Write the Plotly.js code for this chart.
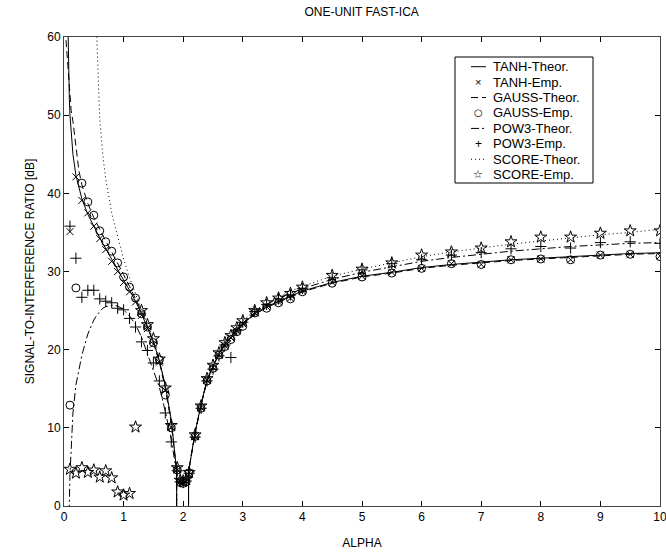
<!DOCTYPE html>
<html>
<head>
<meta charset="utf-8">
<script src="https://cdn.plot.ly/plotly-3.0.1.min.js"></script>
<style>html,body{margin:0;padding:0;background:#fff;}#chart{width:666px;height:556px;}</style>
</head>
<body>
<div id="chart"></div>
<script>
// Empirical alpha values
const alphaEmp = [0.1,0.2,0.3,0.4,0.5,0.6,0.7,0.8,0.9,1.0,1.1,1.2,1.3,1.4,1.5,1.6,1.7,1.8,1.9,1.95,2.0,2.05,2.1,2.2,2.3,2.4,2.5,2.6,2.7,2.8,2.9,3.0,3.2,3.4,3.6,3.8,4.0,4.5,5.0,5.5,6.0,6.5,7.0,7.5,8.0,8.5,9.0,9.5,10.0];
const tanhEmp  = [35.1,42.1,39.1,37.5,35.8,34.2,32.8,31.3,30.0,28.6,27.4,26.1,24.4,22.7,20.7,18.4,14.8,10.1,4.6,3.1,3.0,3.2,4.3,9.0,12.6,16.1,17.7,19.3,20.5,21.5,22.4,23.3,24.7,25.5,26.1,26.6,27.5,28.6,29.4,29.9,30.4,31.0,30.9,31.5,31.6,31.5,32.1,32.2,32.0];
const gaussEmp = [12.9,27.9,41.3,38.9,37.2,35.2,33.8,32.6,31.1,29.3,28.0,26.6,24.6,22.9,20.9,18.7,14.2,10.0,4.6,3.0,2.9,3.1,4.2,8.9,12.5,16.0,17.6,19.3,20.4,21.3,22.3,23.0,24.7,25.3,26.0,26.5,27.4,28.5,29.3,29.8,30.4,31.0,30.9,31.5,31.6,31.5,32.1,32.2,31.9];
const pow3Emp  = [35.8,31.7,26.7,27.6,27.6,26.5,26.2,26.0,25.3,25.1,24.0,22.9,21.0,19.9,18.3,16.0,11.9,8.2,4.5,3.1,3.0,3.2,4.2,8.8,12.5,16.0,17.5,19.2,20.6,19.0,22.5,23.5,24.9,25.8,26.5,27.0,27.8,29.2,30.2,31.0,31.5,32.1,32.4,32.9,33.2,33.0,33.7,33.8,33.6];
const scoreEmp = [4.7,4.2,4.9,4.3,4.6,3.7,4.5,3.6,1.8,1.4,1.6,10.1,25.0,23.2,21.4,18.8,15.1,10.3,4.9,3.3,3.2,3.4,4.3,9.1,12.8,16.3,18.0,19.6,20.9,21.8,22.8,23.7,25.0,26.0,26.6,27.2,28.0,29.5,30.3,31.1,32.1,32.5,33.0,33.8,34.4,34.4,34.9,35.2,35.2];

// Theoretical curves (values at 1.891 / 2.089 stand for -infinity dB)
const alphaTheor = [0.02,0.05,0.07,0.08,0.09,0.1,0.12,0.15,0.2,0.25,0.3,0.4,0.5,0.55,0.6,0.65,0.7,0.8,0.9,1.0,1.1,1.2,1.3,1.4,1.5,1.6,1.7,1.8,1.89,1.891,2.089,2.09,2.2,2.3,2.4,2.5,2.6,2.7,2.8,2.9,3.0,3.2,3.4,3.6,3.8,4.0,4.5,5,5.5,6,6.5,7,7.5,8,8.5,9,9.5,10];
const tanhTheor  = [80,66,60,55,52,50,47.5,45,42.3,40.6,39.3,37.3,35.7,35.0,34.3,33.6,32.9,31.5,30.2,28.9,27.6,26.2,24.6,22.9,21.0,18.6,15.4,11.0,4.5,-60,-60,4.4,9.4,13.0,16.1,17.9,19.5,20.7,21.7,22.6,23.3,24.6,25.5,26.2,26.9,27.5,28.6,29.4,29.9,30.5,30.9,31.2,31.5,31.7,31.9,32.1,32.3,32.4];
const gaussTheor = [61,57.5,55,54,53,52,50.6,49.2,45.8,42.9,41.1,38.7,36.9,36.1,35.3,34.6,33.9,32.5,31.1,29.6,28.1,26.6,24.9,23.0,20.9,18.4,15.0,10.6,4.5,-60,-60,4.4,9.3,12.9,16.0,17.8,19.4,20.6,21.6,22.5,23.2,24.5,25.4,26.1,26.8,27.4,28.5,29.3,29.8,30.4,30.8,31.1,31.4,31.6,31.8,32.0,32.2,32.3];
const pow3Theor  = [-60,-60,-20,-5,0.5,4,7.6,11.9,15.5,17.5,19.3,22.0,23.8,24.4,24.9,25.3,25.5,25.7,25.6,25.1,24.3,23.2,21.6,19.5,17.5,15.2,12.1,8.5,4.2,-60,-60,4.4,9.4,13.0,16.1,17.9,19.5,20.7,21.7,22.6,23.4,24.8,25.8,26.6,27.2,27.8,29.0,29.9,30.6,31.3,31.8,32.2,32.6,32.9,33.2,33.4,33.6,33.7];
const scoreTheor = [null,null,null,null,null,null,null,null,null,null,null,null,80,60,49.5,45.0,41.8,37.5,34.5,31.6,29.2,27.1,25.1,23.2,21.2,18.8,15.4,10.9,4.6,-60,-60,4.5,9.5,13.2,16.3,18.2,19.8,21.0,22.0,22.9,23.7,25.0,26.0,26.8,27.5,28.1,29.4,30.3,31.1,31.9,32.5,33.0,33.5,33.9,34.3,34.7,35.0,35.4];

const xTicks = [0,1,2,3,4,5,6,7,8,9,10];
const yTicks = [0,10,20,30,40,50,60];

const seriesNames = ['TANH-Theor.','TANH-Emp.','GAUSS-Theor.','GAUSS-Emp.','POW3-Theor.','POW3-Emp.','SCORE-Theor.','SCORE-Emp.'];

const FONT = 'Liberation Sans, Arial, Helvetica, sans-serif';
const DASH = {solid:'solid', dash:'7px,4px', dashdot:'8px,3px,2px,3px', dot:'1px,3px'};
const line = (d) => ({color:'#000', width:1, dash:DASH[d]});
const mk = (sym, size) => ({symbol:sym, size:size, color:'#000', line:{color:'#000', width:1}});

const traces = [
  {x:alphaTheor, y:tanhTheor, mode:'lines', name:seriesNames[0], line:line('solid'), legendKey:{line:'solid'}},
  {x:alphaEmp, y:tanhEmp, mode:'markers', name:seriesNames[1], marker:mk('x-thin-open',7), legendKey:{sym:'\u00D7', font:FONT, size:11}},
  {x:alphaTheor, y:gaussTheor, mode:'lines', name:seriesNames[2], line:line('dash'), legendKey:{line:'dash'}},
  {x:alphaEmp, y:gaussEmp, mode:'markers', name:seriesNames[3], marker:mk('circle-open',8), legendKey:{sym:'\u25CB', font:'DejaVu Sans, sans-serif', size:10}},
  {x:alphaTheor, y:pow3Theor, mode:'lines', name:seriesNames[4], line:line('dashdot'), legendKey:{line:'dashdot'}},
  {x:alphaEmp, y:pow3Emp, mode:'markers', name:seriesNames[5], marker:mk('cross-thin-open',8), legendKey:{sym:'+', font:FONT, size:12}},
  {x:alphaTheor, y:scoreTheor, mode:'lines', name:seriesNames[6], line:line('dot'), legendKey:{line:'dot'}},
  {x:alphaEmp, y:scoreEmp, mode:'markers', name:seriesNames[7], marker:mk('star-open',9), legendKey:{sym:'\u2606', font:'DejaVu Sans, sans-serif', size:11}}
];

// ---- compact legend (drawn as layout shapes + annotations) ----
const M = {l:64, r:6, t:37, b:50}, W = 666, H = 556;
const PW = W - M.l - M.r, PH = H - M.t - M.b;
const px2x = (px) => (px - M.l) / PW;
const px2y = (py) => (H - M.b - py) / PH;
const LEG = {left:455, right:593, top:57, bottom:183, row0:66.7, rowStep:15.43, lineX0:471, lineX1:486, symX:478, textX:491};

const shapes = [{type:'rect', xref:'paper', yref:'paper', x0:px2x(LEG.left), x1:px2x(LEG.right), y0:px2y(LEG.bottom), y1:px2y(LEG.top),
  line:{color:'#000', width:1}, fillcolor:'#fff', layer:'above'}];
const annotations = [];
traces.forEach((t, i) => {
  const py = LEG.row0 + i * LEG.rowStep;
  const k = t.legendKey;
  if (k.line) {
    shapes.push({type:'line', xref:'paper', yref:'paper', x0:px2x(LEG.lineX0), x1:px2x(LEG.lineX1), y0:px2y(py), y1:px2y(py),
      line:{color:'#000', width:1, dash:DASH[k.line]}, layer:'above'});
  } else {
    annotations.push({xref:'paper', yref:'paper', x:px2x(LEG.symX), y:px2y(py), xanchor:'center', yanchor:'middle', showarrow:false,
      text:k.sym, font:{family:k.font, size:k.size, color:'#000'}});
  }
  annotations.push({xref:'paper', yref:'paper', x:px2x(LEG.textX), y:px2y(py), xanchor:'left', yanchor:'middle', showarrow:false,
    text:t.name, font:{family:FONT, size:13, color:'#000'}});
});
traces.forEach(t => { delete t.legendKey; t.showlegend = false; });

const axisCommon = {
  showgrid:false, zeroline:false, showline:true, linecolor:'#444', linewidth:1,
  ticks:'inside', ticklen:5, tickcolor:'#000', mirror:'ticks', ticklabeloverflow:'allow',
  tickfont:{family:FONT, size:12, color:'#000'}
};

const layout = {
  width:W, height:H,
  margin:M,
  paper_bgcolor:'#fff', plot_bgcolor:'#fff',
  font:{family:FONT, size:12, color:'#000'},
  title:{text:'ONE-UNIT FAST-ICA', x:0.543, xref:'container', y:0.978, yref:'container', yanchor:'middle', font:{family:FONT, size:12, color:'#000'}},
  xaxis:Object.assign({}, axisCommon, {range:[0,10], tickvals:xTicks, ticktext:xTicks.map(String),
    title:{text:'ALPHA', font:{family:FONT, size:12}, standoff:15}}),
  yaxis:Object.assign({}, axisCommon, {range:[0,60], tickvals:yTicks, ticktext:yTicks.map(String),
    title:{text:'SIGNAL-TO-INTERFERENCE RATIO [dB]', font:{family:FONT, size:12}, standoff:10}}),
  showlegend:false,
  shapes:shapes,
  annotations:annotations
};

Plotly.newPlot('chart', traces, layout, {staticPlot:true, displayModeBar:false});
</script>
</body>
</html>
